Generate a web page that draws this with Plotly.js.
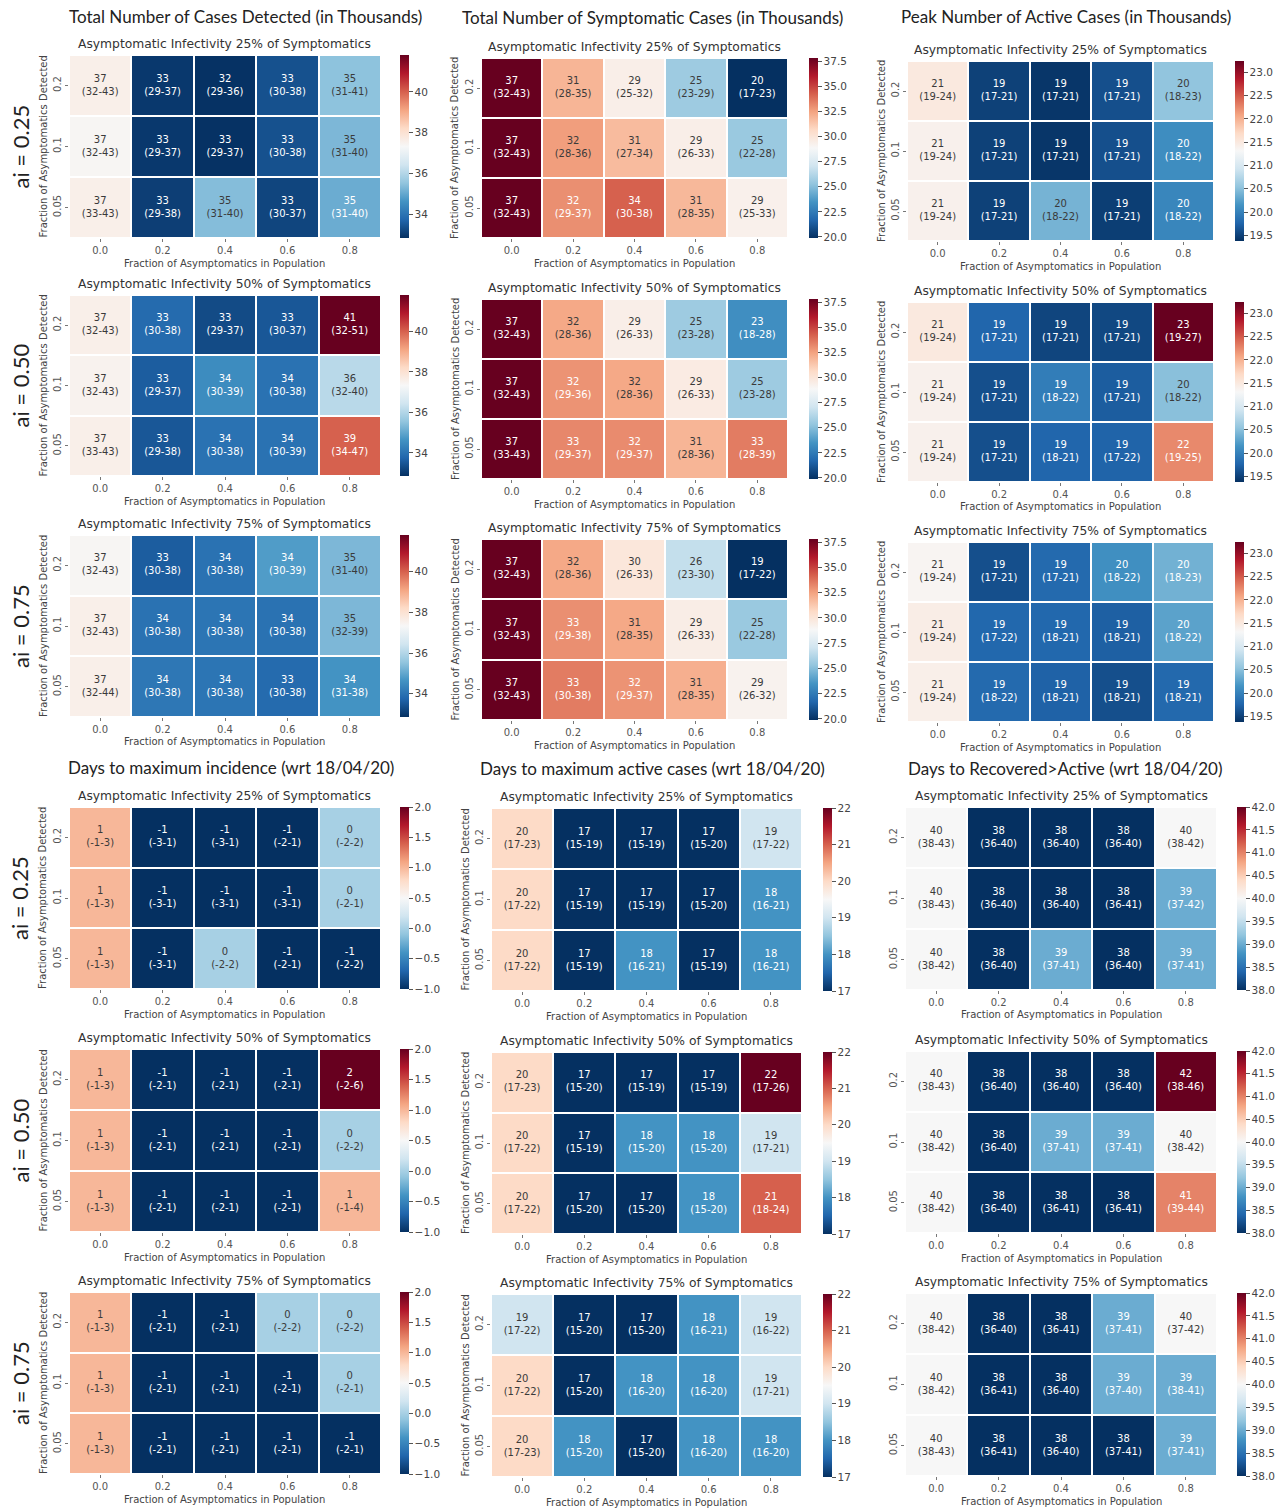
<!DOCTYPE html>
<html>
<head>
<meta charset="utf-8">
<script src="https://cdn.plot.ly/plotly-3.0.1.min.js"></script>
<style>html,body{margin:0;padding:0;background:#fff;}#chart{width:1279px;height:1511px;}</style>
</head>
<body>
<div id="chart"></div>
<script>
// ---------------- DATA ----------------
const xCats = ['0.0', '0.2', '0.4', '0.6', '0.8'];          // Fraction of Asymptomatics in Population
const yCatsTopDown = ['0.2', '0.1', '0.05'];                  // Fraction of Asymptomatics Detected (rows as drawn, top first)
const aiLabels = ['ai = 0.25', 'ai = 0.50', 'ai = 0.75'];
const panelTitles = ['Asymptomatic Infectivity 25% of Symptomatics',
                     'Asymptomatic Infectivity 50% of Symptomatics',
                     'Asymptomatic Infectivity 75% of Symptomatics'];
const metricTitles = ['Total Number of Cases Detected (in Thousands)',
                      'Total Number of Symptomatic Cases (in Thousands)',
                      'Peak Number of Active Cases (in Thousands)',
                      'Days to maximum incidence (wrt 18/04/20)',
                      'Days to maximum active cases (wrt 18/04/20)',
                      'Days to Recovered>Active (wrt 18/04/20)'];

// Each array: [ai=0.25, ai=0.50, ai=0.75]; each panel rows top-first (0.2, 0.1, 0.05)
// Total Number of Cases Detected (thousands)
const detectedValue = [
  [[37.6,33.0,32.9,33.4,35.5],[37.4,33.0,32.9,33.4,35.3],[37.6,33.1,35.4,33.2,35.1]],
  [[37.6,33.85,33.3,33.5,41.8],[37.5,33.6,34.5,34.0,36.1],[37.6,33.5,34.0,34.0,40.0]],
  [[37.4,33.6,34.0,34.8,35.3],[37.6,34.0,34.05,34.0,35.3],[37.6,34.1,34.05,33.85,34.65]]];
const detectedMid = [
  [[37,33,32,33,35],[37,33,33,33,35],[37,33,35,33,35]],
  [[37,33,33,33,41],[37,33,34,34,36],[37,33,34,34,39]],
  [[37,33,34,34,35],[37,34,34,34,35],[37,34,34,33,34]]];
const detectedLo = [
  [[32,29,29,30,31],[32,29,29,30,31],[33,29,31,30,31]],
  [[32,30,29,30,32],[32,29,30,30,32],[33,29,30,30,34]],
  [[32,30,30,30,31],[32,30,30,30,32],[32,30,30,30,31]]];
const detectedHi = [
  [[43,37,36,38,41],[43,37,37,38,40],[43,38,40,37,40]],
  [[43,38,37,37,51],[43,37,39,38,40],[43,38,38,39,47]],
  [[43,38,38,39,40],[43,38,38,38,39],[44,38,38,38,38]]];

// Total Number of Symptomatic Cases (thousands)
const symptValue = [
  [[37.8,31.9,29.4,25.6,19.9],[37.8,32.6,31.7,29.4,25.5],[37.8,33.0,34.2,31.8,29.3]],
  [[37.8,32.3,29.4,25.6,23.3],[37.8,32.9,32.3,29.6,25.6],[37.8,33.2,33.1,31.9,33.5]],
  [[37.8,32.3,29.9,26.7,19.9],[37.8,33.0,32.3,29.5,25.5],[37.8,33.5,32.9,32.1,29.2]]];
const symptMid = [
  [[37,31,29,25,20],[37,32,31,29,25],[37,32,34,31,29]],
  [[37,32,29,25,23],[37,32,32,29,25],[37,33,32,31,33]],
  [[37,32,30,26,19],[37,33,31,29,25],[37,33,32,31,29]]];
const symptLo = [
  [[32,28,25,23,17],[32,28,27,26,22],[32,29,30,28,25]],
  [[32,28,26,23,18],[32,29,28,26,23],[33,29,29,28,28]],
  [[32,28,26,23,17],[32,29,28,26,22],[32,30,29,28,26]]];
const symptHi = [
  [[43,35,32,29,23],[43,36,34,33,28],[43,37,38,35,33]],
  [[43,36,33,28,28],[43,36,36,33,28],[43,37,37,36,39]],
  [[43,36,33,30,22],[43,38,35,33,28],[43,38,37,35,32]]];

// Peak Number of Active Cases (thousands)
const peakValue = [
  [[21.5,19.5,19.42,19.6,20.54],[21.4,19.5,19.42,19.6,20.1],[21.4,19.5,20.4,19.48,20.04]],
  [[21.5,19.77,19.53,19.55,23.24],[21.4,19.6,19.96,19.7,20.5],[21.4,19.6,19.77,19.75,22.24]],
  [[21.35,19.6,19.8,20.12,20.38],[21.45,19.78,19.78,19.72,20.27],[21.42,19.8,19.74,19.6,19.79]]];
const peakMid = [
  [[21,19,19,19,20],[21,19,19,19,20],[21,19,20,19,20]],
  [[21,19,19,19,23],[21,19,19,19,20],[21,19,19,19,22]],
  [[21,19,19,20,20],[21,19,19,19,20],[21,19,19,19,19]]];
const peakLo = [
  [[19,17,17,17,18],[19,17,17,17,18],[19,17,18,17,18]],
  [[19,17,17,17,19],[19,17,18,17,18],[19,17,18,17,19]],
  [[19,17,17,18,18],[19,17,18,18,18],[19,18,18,18,18]]];
const peakHi = [
  [[24,21,21,21,23],[24,21,21,21,22],[24,21,22,21,22]],
  [[24,21,21,21,27],[24,21,22,21,22],[24,21,21,22,25]],
  [[24,21,21,22,23],[24,22,21,21,22],[24,22,21,21,21]]];

// Days to maximum incidence
const incidMid = [
  [[1,-1,-1,-1,0],[1,-1,-1,-1,0],[1,-1,0,-1,-1]],
  [[1,-1,-1,-1,2],[1,-1,-1,-1,0],[1,-1,-1,-1,1]],
  [[1,-1,-1,0,0],[1,-1,-1,-1,0],[1,-1,-1,-1,-1]]];
const incidLo = [
  [[-1,-3,-3,-2,-2],[-1,-3,-3,-3,-2],[-1,-3,-2,-2,-2]],
  [[-1,-2,-2,-2,-2],[-1,-2,-2,-2,-2],[-1,-2,-2,-2,-1]],
  [[-1,-2,-2,-2,-2],[-1,-2,-2,-2,-2],[-1,-2,-2,-2,-2]]];
const incidHi = [
  [[3,1,1,1,2],[3,1,1,1,1],[3,1,2,1,2]],
  [[3,1,1,1,6],[3,1,1,1,2],[3,1,1,1,4]],
  [[3,1,1,2,2],[3,1,1,1,1],[3,1,1,1,1]]];

// Days to maximum active cases
const activeMid = [
  [[20,17,17,17,19],[20,17,17,17,18],[20,17,18,17,18]],
  [[20,17,17,17,22],[20,17,18,18,19],[20,17,17,18,21]],
  [[19,17,17,18,19],[20,17,18,18,19],[20,18,17,18,18]]];
const activeLo = [
  [[17,15,15,15,17],[17,15,15,15,16],[17,15,16,15,16]],
  [[17,15,15,15,17],[17,15,15,15,17],[17,15,15,15,18]],
  [[17,15,15,16,16],[17,15,16,16,17],[17,15,15,16,16]]];
const activeHi = [
  [[23,19,19,20,22],[22,19,19,20,21],[22,19,21,19,21]],
  [[23,20,19,19,26],[22,19,20,20,21],[22,20,20,20,24]],
  [[22,20,20,21,22],[22,20,20,20,21],[23,20,20,20,20]]];

// Days to Recovered > Active
const recovMid = [
  [[40,38,38,38,40],[40,38,38,38,39],[40,38,39,38,39]],
  [[40,38,38,38,42],[40,38,39,39,40],[40,38,38,38,41]],
  [[40,38,38,39,40],[40,38,38,39,39],[40,38,38,38,39]]];
const recovLo = [
  [[38,36,36,36,38],[38,36,36,36,37],[38,36,37,36,37]],
  [[38,36,36,36,38],[38,36,37,37,38],[38,36,36,36,39]],
  [[38,36,36,37,37],[38,36,36,37,38],[38,36,36,37,37]]];
const recovHi = [
  [[43,40,40,40,42],[43,40,40,41,42],[42,40,41,40,41]],
  [[43,40,40,40,46],[42,40,41,41,42],[42,40,41,41,44]],
  [[42,40,41,41,42],[42,41,40,40,41],[43,41,40,41,41]]];

// colour ranges and colour-bar ticks per metric
const colorRanges = [[32.86, 41.8], [19.9, 37.8], [19.38, 23.24], [-1, 2], [17, 22], [38, 42]];
const colorTicks = [[34, 36, 38, 40],
                    [20, 22.5, 25, 27.5, 30, 32.5, 35, 37.5],
                    [19.5, 20, 20.5, 21, 21.5, 22, 22.5, 23],
                    [-1, -0.5, 0, 0.5, 1, 1.5, 2],
                    [17, 18, 19, 20, 21, 22],
                    [38, 38.5, 39, 39.5, 40, 40.5, 41, 41.5, 42]];
const colorTickFormats = ['d', '.1f', '.1f', '.1f', 'd', '.1f'];

const metrics = [
  {value: detectedValue, mid: detectedMid, lo: detectedLo, hi: detectedHi},
  {value: symptValue, mid: symptMid, lo: symptLo, hi: symptHi},
  {value: peakValue, mid: peakMid, lo: peakLo, hi: peakHi},
  {value: incidMid, mid: incidMid, lo: incidLo, hi: incidHi},
  {value: activeMid, mid: activeMid, lo: activeLo, hi: activeHi},
  {value: recovMid, mid: recovMid, lo: recovLo, hi: recovHi}];

// ---------------- LAYOUT (pixels) ----------------
const W = 1279, H = 1511;
const colX = [
  {top: [69, 381], bot: [69, 381]},
  {top: [481, 788], bot: [491, 802]},
  {top: [907, 1214], bot: [905, 1217]}];
const colY = [
  [[55, 238], [295, 476], [535, 717], [807, 989], [1049, 1232], [1292, 1474]],
  [[58, 238], [299, 479], [539, 720], [808, 991], [1052, 1234], [1294, 1477]],
  [[61, 241], [302, 482], [542, 722], [807, 990], [1051, 1233], [1293, 1476]]];
const cbX = [{top: 400, bot: 400}, {top: 809, bot: 823}, {top: 1235, bot: 1237}];
const colTitlePos = [[246, 17], [652, 18], [1066, 17], [231, 767], [652, 769], [1065, 768]];

const rdbuR = ['#053061','#2166ac','#4393c3','#92c5de','#d1e5f0','#f7f7f7','#fddbc7','#f4a582','#d6604d','#b2182b','#67001f'];
const colorscale = rdbuR.map((c, i) => [i / 10, c]);

function hex2rgb(h) { return [parseInt(h.slice(1,3),16), parseInt(h.slice(3,5),16), parseInt(h.slice(5,7),16)]; }
function colorAt(t) {
  t = Math.max(0, Math.min(1, t));
  const p = t * 10, i = Math.min(9, Math.floor(p)), f = p - i;
  const a = hex2rgb(rdbuR[i]), b = hex2rgb(rdbuR[i + 1]);
  return a.map((v, k) => v + (b[k] - v) * f);
}
function luminance(rgb) {
  const lin = rgb.map(v => { v /= 255; return v <= 0.03928 ? v / 12.92 : Math.pow((v + 0.055) / 1.055, 2.4); });
  return 0.2126 * lin[0] + 0.7152 * lin[1] + 0.0722 * lin[2];
}

const FONT = 'DejaVu Sans';
const TITLEFONT = 'Lato, "Open Sans", sans-serif';
const px2x = p => p / W, px2y = p => 1 - p / H;

const data = [];
const layout = {
  width: W, height: H, autosize: false,
  margin: {l: 0, r: 0, t: 0, b: 0, autoexpand: false},
  paper_bgcolor: '#ffffff', plot_bgcolor: '#ffffff',
  showlegend: false, font: {family: FONT, color: '#444'},
  annotations: []
};

let n = 0;
for (let m = 0; m < 6; m++) {
  const col = m % 3, half = m < 3 ? 'top' : 'bot';
  const [zmin, zmax] = colorRanges[m];
  for (let r = 0; r < 3; r++) {
    n++;
    const g = (m < 3 ? 0 : 3) + r;
    const [x0, x1] = colX[col][half];
    const [y0, y1] = colY[col][g];
    const xa = 'x' + n, ya = 'y' + n;
    const met = metrics[m];
    const zTop = met.value[r];
    const yBottomUp = yCatsTopDown.slice().reverse();
    const zBottomUp = zTop.slice().reverse();

    data.push({
      type: 'heatmap', x: xCats, y: yBottomUp, z: zBottomUp,
      zmin: zmin, zmax: zmax, colorscale: colorscale,
      xgap: 2, ygap: 2, hoverinfo: 'skip', xaxis: xa, yaxis: ya,
      showscale: true,
      colorbar: {
        x: px2x(cbX[col][half]), xanchor: 'left', xref: 'paper',
        y: px2y(y0), yanchor: 'top', yref: 'paper',
        len: (y1 - y0) / H, lenmode: 'fraction',
        thickness: 9, thicknessmode: 'pixels',
        outlinewidth: 0, xpad: 0, ypad: 0,
        tickmode: 'array', tickvals: colorTicks[m], tickformat: colorTickFormats[m],
        tickprefix: '\u00a0',
        ticks: 'outside', ticklen: 4, tickwidth: 1, tickcolor: '#555',
        tickfont: {family: FONT, size: 10.5, color: '#444'}
      }
    });

    // cell annotations as a text trace
    const tx = [], ty = [], tt = [], tc = [];
    for (let i = 0; i < 3; i++) {
      for (let j = 0; j < 5; j++) {
        tx.push(xCats[j]); ty.push(yCatsTopDown[i]);
        tt.push(met.mid[r][i][j] + '<br>(' + met.lo[r][i][j] + '-' + met.hi[r][i][j] + ')');
        const rgb = colorAt((zTop[i][j] - zmin) / (zmax - zmin));
        tc.push(luminance(rgb) > 0.408 ? '#3a3a3a' : '#ffffff');
      }
    }
    data.push({
      type: 'scatter', mode: 'text', x: tx, y: ty, text: tt,
      textposition: 'middle center', cliponaxis: false,
      textfont: {family: FONT, size: 10, color: tc},
      hoverinfo: 'skip', xaxis: xa, yaxis: ya
    });

    const suffix = n === 1 ? '' : String(n);
    layout['xaxis' + suffix] = {
      domain: [px2x(x0), px2x(x1)], anchor: ya,
      type: 'category', categoryorder: 'array', categoryarray: xCats,
      range: [-0.5, 4.5], showgrid: false, zeroline: false, showline: false,
      ticks: 'outside', ticklen: 3, tickwidth: 1, tickcolor: '#777',
      tickfont: {family: FONT, size: 10, color: '#555'}, fixedrange: true
    };
    layout['yaxis' + suffix] = {
      domain: [px2y(y1), px2y(y0)], anchor: xa,
      type: 'category', categoryorder: 'array', categoryarray: yBottomUp,
      range: [-0.5, 2.5], showgrid: false, zeroline: false, showline: false,
      ticks: 'outside', ticklen: 3, tickwidth: 1, tickcolor: '#777', tickangle: -90,
      tickfont: {family: FONT, size: 10, color: '#555'}, fixedrange: true
    };

    const cx = (x0 + x1) / 2, cy = (y0 + y1) / 2;
    // panel title
    layout.annotations.push({xref: 'paper', yref: 'paper', x: px2x(cx), y: px2y(y0 - 11),
      text: panelTitles[r], showarrow: false, xanchor: 'center', yanchor: 'middle',
      font: {family: FONT, size: 12.3, color: '#333'}});
    // x axis title
    layout.annotations.push({xref: 'paper', yref: 'paper', x: px2x(cx), y: px2y(y1 + 25),
      text: 'Fraction of Asymptomatics in Population', showarrow: false, xanchor: 'center', yanchor: 'middle',
      font: {family: FONT, size: 10, color: '#444'}});
    // y axis title (absent in the bottom-right panels of the original)
    if (!(col === 2 && m >= 3)) {
      layout.annotations.push({xref: 'paper', yref: 'paper', x: px2x(x0 - 26), y: px2y(cy),
        text: 'Fraction of Asymptomatics Detected', showarrow: false, textangle: -90,
        xanchor: 'center', yanchor: 'middle', font: {family: FONT, size: 10, color: '#444'}});
    }
    // ai labels on the left column
    if (col === 0) {
      layout.annotations.push({xref: 'paper', yref: 'paper', x: px2x(20), y: px2y(cy),
        text: aiLabels[r], showarrow: false, textangle: -90, xanchor: 'center', yanchor: 'middle',
        font: {family: TITLEFONT, size: 22, color: '#222'}});
    }
  }
  // metric (column) title
  layout.annotations.push({xref: 'paper', yref: 'paper', x: px2x(colTitlePos[m][0]), y: px2y(colTitlePos[m][1]),
    text: metricTitles[m], showarrow: false, xanchor: 'center', yanchor: 'middle',
    font: {family: TITLEFONT, size: 17, color: '#222'}});
}

Plotly.newPlot('chart', data, layout, {staticPlot: true, displayModeBar: false});
</script>
</body>
</html>
